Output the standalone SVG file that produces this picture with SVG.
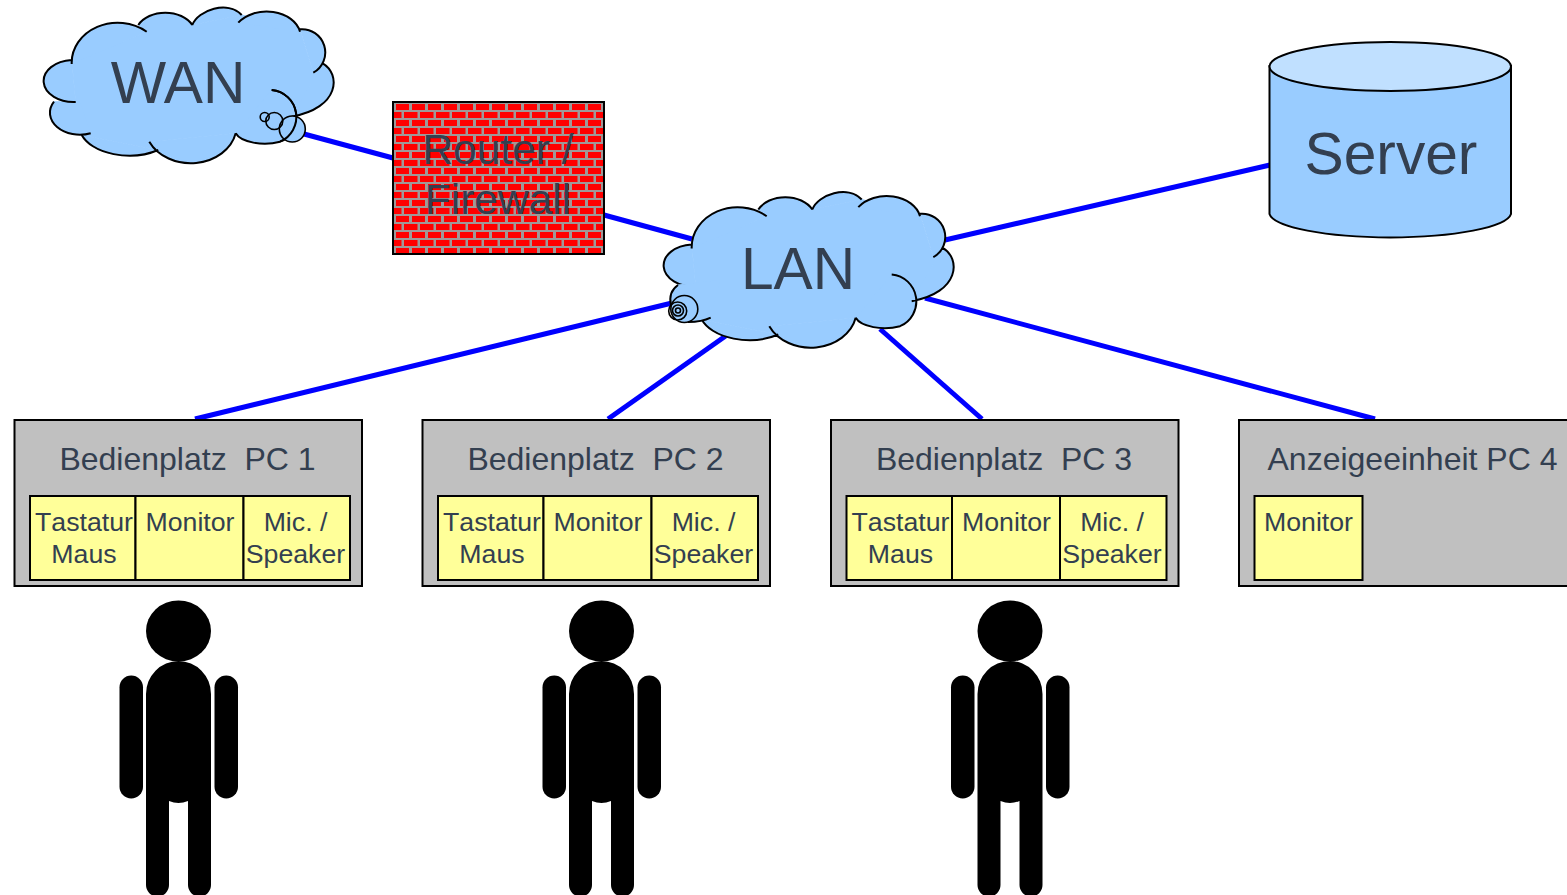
<svg xmlns="http://www.w3.org/2000/svg" width="1567" height="895" viewBox="0 0 1567 895">
<style>
text{font-family:"Liberation Sans",Arial,sans-serif;fill:#333f50;text-anchor:middle;white-space:pre}
.big{font-size:58.7px}
.fw{font-size:42.5px}
.t{font-size:32px;font-kerning:none}
.s{font-size:26.7px;font-kerning:none}
.box{fill:#c0c0c0;stroke:#000;stroke-width:2}
.cell{fill:#ffff99;stroke:#000;stroke-width:2}
.cf{fill:#99ccff;stroke:#99ccff;stroke-width:1}
.cs{fill:none;stroke:#000;stroke-width:2}
.cc{fill:#99ccff;stroke:#000;stroke-width:1.6}
.co{fill:none;stroke:#000;stroke-width:1.6}
.link{stroke:#0000ff;stroke-width:5;fill:none}
</style>
<defs>
<pattern id="brick" width="16" height="16" patternUnits="userSpaceOnUse" x="393" y="102">
<rect width="16" height="16" fill="#a09898"/>
<rect x="3" y="2" width="13.500" height="6" fill="#ff0000"/>
<rect x="-5" y="10" width="13.500" height="6" fill="#ff0000"/>
<rect x="11" y="10" width="13.500" height="6" fill="#ff0000"/>
</pattern>
<path id="cloudCore" d="M75.700 102L60 110L81.700 135L158.300 150L149.300 141.700L235.700 133.300L280 141.700L293 117L322.700 63.300L313 72L300 30L241.700 15L192.300 25L138.300 25L146.700 31.700L72 62Z"/>
<path id="cloudLobes" d="M75.700 102A30 21 0 0 1 71.700 60M71.700 64A46 40 0 0 1 146.700 31.700M138.300 25A30 21.800 0 0 1 192.300 25M192.300 25C198 10 228 0 241.700 15M238.300 22.700A34 25 0 0 1 300 31.700M300 29.300A23.200 23.200 0 0 1 313.300 72.700M322.700 63.300C341 74 340 108 291.700 116.700M271.700 90A27 27 0 0 1 280 141.700A30 14 0 0 1 235.700 133.300M235.700 133.300A46 38 0 0 1 149.300 141.700M158.300 150A50 30 0 0 1 81.700 135"/>
<g id="person" fill="#000">
<ellipse cx="178.500" cy="631" rx="32.500" ry="30.500"/>
<path d="M146 694A32.500 33 0 0 1 211 694V885A11.500 11.500 0 0 1 188 885V801Q178.500 805 169 801V885A11.500 11.500 0 0 1 146 885Z"/>
<rect x="119.500" y="675.500" width="23.500" height="123" rx="11.750"/>
<rect x="214.500" y="675.500" width="23.500" height="123" rx="11.750"/>
</g>
</defs>

<g id="connectors">
<line class="link" x1="304" y1="134" x2="393" y2="158"/>
<line class="link" x1="604" y1="215" x2="692" y2="239"/>
<line class="link" x1="945" y1="240" x2="1270" y2="165"/>
<line class="link" x1="672" y1="303" x2="195" y2="419"/>
<line class="link" x1="727" y1="335" x2="608" y2="419"/>
<line class="link" x1="880" y1="329" x2="982" y2="419"/>
<line class="link" x1="925" y1="298" x2="1375" y2="419"/>
</g>

<g id="wan">
<use href="#cloudCore" class="cf"/>
<use href="#cloudLobes" class="cf"/>
<path class="cf" d="M90.700 133.300A30 22 0 0 1 54 101.700L80 102Z"/>
<use href="#cloudLobes" class="cs"/>
<path class="cs" d="M90.700 133.300A30 22 0 0 1 54 101.700"/>
<circle class="cc" cx="292.300" cy="129" r="13"/>
<circle class="co" cx="274.300" cy="121" r="8.500"/>
<circle class="co" cx="264.700" cy="117" r="4.500"/>
<path class="cs" d="M271.700 90A27 27 0 0 1 280 141.700"/>
<text class="big" x="178" y="103">WAN</text>
</g>

<g id="router">
<rect x="393" y="102" width="211" height="152" fill="url(#brick)" stroke="#000" stroke-width="2"/>
<text class="fw" x="498" y="164">Router /</text>
<text class="fw" x="498" y="214">Firewall</text>
</g>

<g id="lan">
<g transform="translate(620 184.500)">
<use href="#cloudCore" class="cf"/>
<use href="#cloudLobes" class="cf"/>
<use href="#cloudLobes" class="cs"/>
</g>
<path class="cf" d="M678 285Q668 292 671 305L690 322Q702 322 710.700 317.700L720 280Z"/>
<path class="cs" d="M678 285Q668 292 671 305M688 322Q702 322 710.700 317.700"/>
<circle class="cc" cx="684.300" cy="309" r="13.500"/>
<circle class="co" cx="677.700" cy="311" r="9"/>
<circle class="co" cx="678" cy="310.500" r="5.500"/>
<circle class="co" cx="678" cy="310.500" r="2.500"/>
<text class="big" x="798" y="289">LAN</text>
</g>

<g id="server">
<path d="M1269.500 66V214A121 25 0 0 0 1511 214V66Z" fill="#99ccff" stroke="#000" stroke-width="2"/>
<ellipse cx="1390.250" cy="66.500" rx="120.750" ry="24.500" fill="#c0e0ff" stroke="#000" stroke-width="2"/>
<text class="big" x="1391" y="174">Server</text>
</g>

<g id="pc1">
<rect class="box" x="14.500" y="420" width="347.500" height="166"/>
<text class="t" x="187.500" y="470">Bedienplatz  PC 1</text>
<rect class="cell" x="30" y="496" width="105.500" height="84"/>
<rect class="cell" x="135.500" y="496" width="108" height="84"/>
<rect class="cell" x="243.500" y="496" width="106.500" height="84"/>
<text class="s" x="84" y="531">Tastatur</text><text class="s" x="84" y="563">Maus</text>
<text class="s" x="190" y="531">Monitor</text>
<text class="s" x="295.500" y="531">Mic. /</text><text class="s" x="295.500" y="563">Speaker</text>
</g>
<g id="pc2" transform="translate(408 0)">
<rect class="box" x="14.500" y="420" width="347.500" height="166"/>
<text class="t" x="187.500" y="470">Bedienplatz  PC 2</text>
<rect class="cell" x="30" y="496" width="105.500" height="84"/>
<rect class="cell" x="135.500" y="496" width="108" height="84"/>
<rect class="cell" x="243.500" y="496" width="106.500" height="84"/>
<text class="s" x="84" y="531">Tastatur</text><text class="s" x="84" y="563">Maus</text>
<text class="s" x="190" y="531">Monitor</text>
<text class="s" x="295.500" y="531">Mic. /</text><text class="s" x="295.500" y="563">Speaker</text>
</g>
<g id="pc3" transform="translate(816.500 0)">
<rect class="box" x="14.500" y="420" width="347.500" height="166"/>
<text class="t" x="187.500" y="470">Bedienplatz  PC 3</text>
<rect class="cell" x="30" y="496" width="105.500" height="84"/>
<rect class="cell" x="135.500" y="496" width="108" height="84"/>
<rect class="cell" x="243.500" y="496" width="106.500" height="84"/>
<text class="s" x="84" y="531">Tastatur</text><text class="s" x="84" y="563">Maus</text>
<text class="s" x="190" y="531">Monitor</text>
<text class="s" x="295.500" y="531">Mic. /</text><text class="s" x="295.500" y="563">Speaker</text>
</g>
<g id="pc4">
<rect class="box" x="1239" y="420" width="347.500" height="166"/>
<text class="t" x="1412.500" y="470">Anzeigeeinheit PC 4</text>
<rect class="cell" x="1254.500" y="496" width="108" height="84"/>
<text class="s" x="1308.500" y="531">Monitor</text>
</g>

<g id="person1"><use href="#person"/></g>
<g id="person2"><use href="#person" x="423"/></g>
<g id="person3"><use href="#person" x="831.500"/></g>
</svg>
